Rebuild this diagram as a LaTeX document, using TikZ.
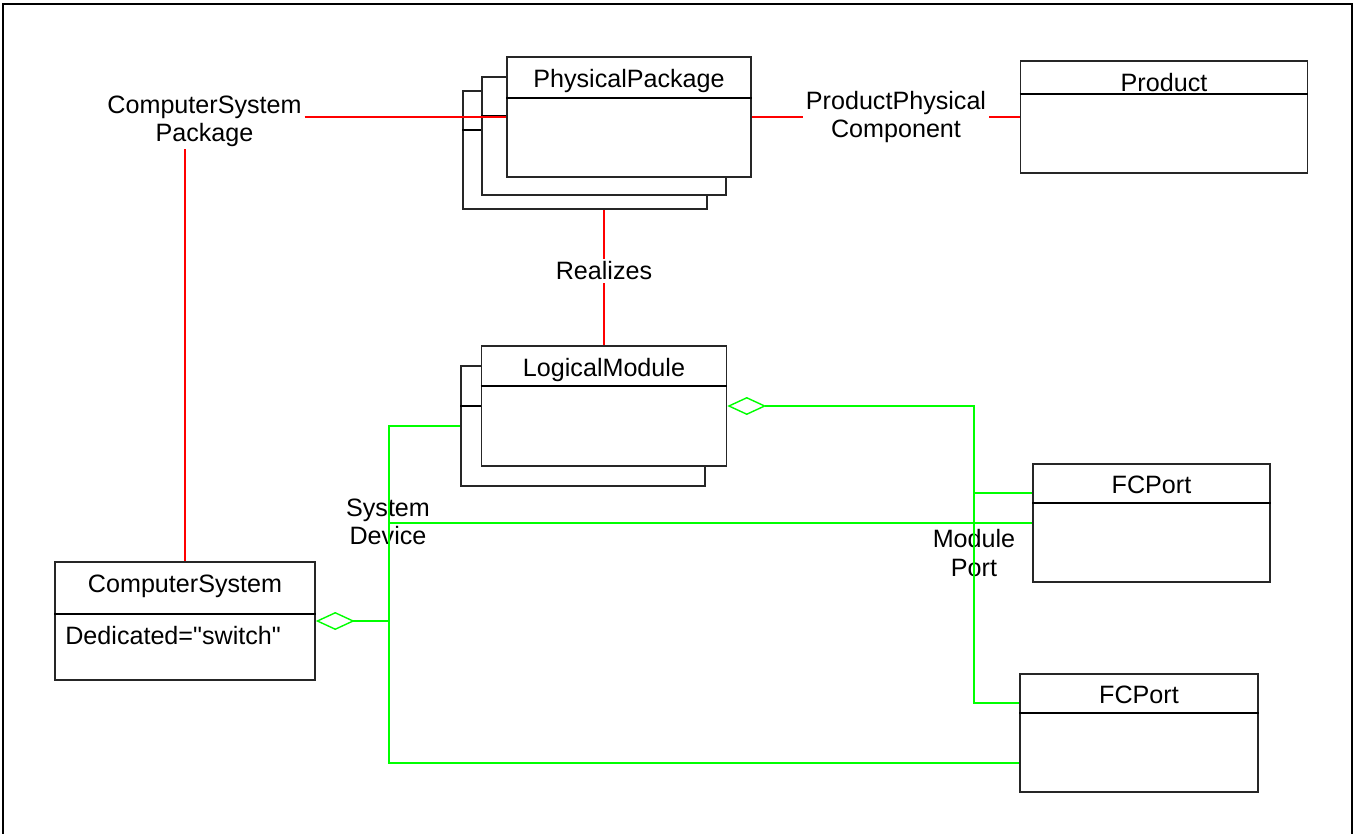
\documentclass[tikz,border=0pt]{standalone}
\usepackage{fontspec}
\setmainfont{Liberation Sans}
\newfontfamily\plainquotes{Liberation Sans}
\usetikzlibrary{arrows.meta}

\begin{document}
\begin{tikzpicture}[
    % GLOBAL CFG
    x=0.02cm, y=-0.02cm,
    font=\fontsize{14.3}{16}\selectfont,
    % Styles
    frame/.style={% For the outer border
        draw,
        line width=1.2pt,
        },
    cls/.style={% For the class boxes
        rectangle,
        draw=black!85,
        fill=white,
        line width=0.9pt,
        inner sep=0pt,
        },
    sepline/.style={% Line under the class name
        draw=black,
        line width=0.8pt,
        },
    ttl/.style={% Class names
        anchor=base,
        inner sep=0pt,
        },
    lbl/.style={% Association names
        align=center,
        inner sep=1.5pt,
        },
    assoc/.style={% Red associations
        draw=red,
        line width=0.6pt,
        },
    link/.style={% Green links
        draw=green,
        line width=0.7pt,
        },
    agg/.style={% Green links with open diamond
        link,
        {Diamond[open, length=0.78cm, width=0.36cm, line width=0.8pt]}-,
        },
    ]

    \useasboundingbox (0,0) rectangle (1354,834);
    \draw[frame] (3,834) -- (3,4) -- (1352,4) -- (1352,834);

    % Draw the PhysicalPackage stack
    \node [cls, minimum width=4.88cm, minimum height=2.36cm] (phys_pkg_s2) at (585,150) {};
    \draw [sepline] (phys_pkg_s2.west |- 0,130) -- (phys_pkg_s2.east |- 0,130);
    \node [cls, minimum width=4.88cm, minimum height=2.36cm] (phys_pkg_s1) at (604,136) {};
    \draw [sepline] (phys_pkg_s1.west |- 0,116) -- (phys_pkg_s1.east |- 0,116);
    \node [cls, minimum width=4.88cm, minimum height=2.4cm] (phys_pkg) at (629,117) {};
    \draw [sepline] (phys_pkg.west |- 0,98) -- (phys_pkg.east |- 0,98);
    \node [ttl] (phys_pkg_t) at (629,88) {PhysicalPackage};

    % Draw the LogicalModule stack
    \node [cls, minimum width=4.88cm, minimum height=2.4cm] (log_mod_s1) at (583,426) {};
    \draw [sepline] (log_mod_s1.west |- 0,406) -- (log_mod_s1.east |- 0,406);
    \node [cls, minimum width=4.9cm, minimum height=2.4cm] (log_mod) at (604,406) {};
    \draw [sepline] (log_mod.west |- 0,386) -- (log_mod.east |- 0,386);
    \node [ttl] (log_mod_t) at (604,376.5) {LogicalModule};

    % Draw the single classes
    \node [cls, minimum width=5.74cm, minimum height=2.24cm] (product) at (1164,117) {};
    \draw [sepline] (product.west |- 0,94) -- (product.east |- 0,94);
    \node [ttl] (product_t) at (1164,92) {Product};

    \node [cls, minimum width=5.2cm, minimum height=2.36cm] (comp_sys) at (185,621) {};
    \draw [sepline] (comp_sys.west |- 0,614) -- (comp_sys.east |- 0,614);
    \node [ttl] (comp_sys_t) at (185,592.5) {ComputerSystem};
    \node [ttl, anchor=base west, font=\plainquotes\fontsize{14.3}{16}\selectfont] (comp_sys_a) at (65,644) {Dedicated="switch"};

    \node [cls, minimum width=4.74cm, minimum height=2.36cm] (fc_port1) at (1151.5,523) {};
    \draw [sepline] (fc_port1.west |- 0,503) -- (fc_port1.east |- 0,503);
    \node [ttl] (fc_port1_t) at (1151.5,493) {FCPort};

    \node [cls, minimum width=4.76cm, minimum height=2.36cm] (fc_port2) at (1139,733) {};
    \draw [sepline] (fc_port2.west |- 0,713) -- (fc_port2.east |- 0,713);
    \node [ttl] (fc_port2_t) at (1139,703) {FCPort};

    % Association names
    \node [lbl] (cs_pkg_lbl) at (204.5,121) {ComputerSystem\\Package};
    \node [lbl] (ppc_lbl) at (896,117) {ProductPhysical\\Component};
    \node [lbl] (realizes_lbl) at (604,271) {Realizes};
    \node [lbl] (sys_dev_lbl) at (388,522) {System\\Device};
    \node [lbl] (mod_port_lbl) at (974,553) {Module\\Port};

    % Red associations
    \draw [assoc] (cs_pkg_lbl.east |- phys_pkg) -- (phys_pkg.west);
    \draw [assoc] (comp_sys.north) -- (comp_sys.north |- cs_pkg_lbl.south);
    \draw [assoc] (phys_pkg.east) -- (ppc_lbl) -- (product.west);
    \draw [assoc] (log_mod.north) -- (realizes_lbl) -- (realizes_lbl |- phys_pkg_s2.south);

    % Green links, SystemDevice
    \coordinate (sd_joint) at (389,621);
    \draw [agg] (comp_sys.east) -- (sd_joint) |- (log_mod_s1.west);
    \draw [link] (sd_joint) |- (fc_port1.west);
    \draw [link] (sd_joint) |- ([yshift=-0.6cm]fc_port2.west);

    % Green links, ModulePort
    \coordinate (mp_joint) at (974,406);
    \draw [agg] (log_mod.east) -- (mp_joint) |- ([yshift=0.6cm]fc_port2.west);
    \draw [link] (mp_joint) |- ([yshift=0.6cm]fc_port1.west);

\end{tikzpicture}
\end{document}
